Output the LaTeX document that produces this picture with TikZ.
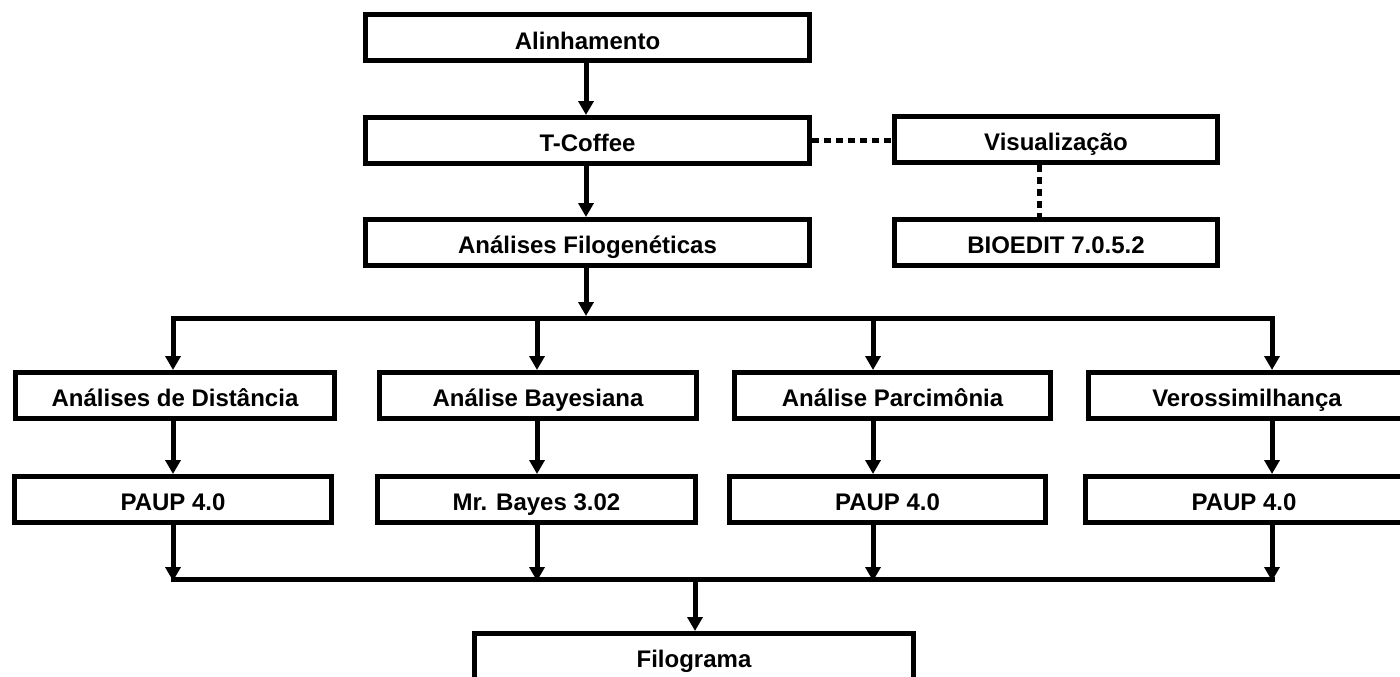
\documentclass[tikz,border=0pt]{standalone}
\usepackage{fontspec}
\setmainfont{Liberation Sans}
\usetikzlibrary{arrows.meta}
\begin{document}
\begin{tikzpicture}[x=1pt,y=-1pt,
  box/.style={draw,line width=5pt,inner sep=0pt,minimum height=46pt,
    text height=24pt,text depth=2pt,
    font=\fontsize{24}{28}\selectfont\bfseries},
  arr/.style={line width=5pt,-{Triangle[width=15pt,length=14pt]}},
  bus/.style={line width=5pt,line cap=rect},
  dotline/.style={line width=5pt,dash pattern=on 7pt off 5pt}]
\useasboundingbox (0,0) rectangle (1400,677);
\fill[white] (0,0) rectangle (1400,677);

% top column
\node[box,minimum width=444pt] (ali) at (587.5,38) {Alinhamento};
\node[box,minimum width=444pt] (tc)  at (587.5,140.5) {T-Coffee};
\node[box,minimum width=444pt] (af)  at (587.5,242.5) {Análises Filogenéticas};
\node[box,minimum width=323pt] (vis) at (1056,139.5) {Visualização};
\node[box,minimum width=323pt] (bio) at (1056,242.5) {BIOEDIT 7.0.5.2};

% row 1
\node[box,minimum width=319pt] (dist) at (175,395.5) {Análises de Distância};
\node[box,minimum width=317pt] (bay)  at (538,395.5) {Análise Bayesiana};
\node[box,minimum width=316pt] (par)  at (892.5,395.5) {Análise Parcimônia};
\node[box,minimum width=317pt] (ver)  at (1247,395.5) {Verossimilhança};

% row 2
\node[box,minimum width=317pt] (p1) at (173,499.5) {PAUP 4.0};
\node[box,minimum width=318pt] (mb) at (536.5,499.5) {Mr. Bayes 3.02};
\node[box,minimum width=316pt] (p3) at (887.5,499.5) {PAUP 4.0};
\node[box,minimum width=317pt] (p4) at (1244,499.5) {PAUP 4.0};

% bottom
\node[box,minimum width=439pt] (fil) at (694,656.5) {Filograma};

% bus coordinates
\coordinate (s1) at (173,318);
\coordinate (s2) at (537,318);
\coordinate (s3) at (873,318);
\coordinate (s4) at (1272,318);
\coordinate (sc) at (586,316);
\coordinate (t1) at (173,579);
\coordinate (t2) at (537,579);
\coordinate (t3) at (873,579);
\coordinate (t4) at (1272,579);
\coordinate (tc2) at (695,579);

% arrows top column
\draw[arr] (ali.south -| 586,0) -- (tc.north -| 586,0);
\draw[arr] (tc.south -| 586,0) -- (af.north -| 586,0);
\draw[arr] (af.south -| sc) -- (sc);

% upper bus
\draw[bus] (s1) -- (s4);
\draw[arr] (s1) -- (s1 |- dist.north);
\draw[arr] (s2) -- (s2 |- bay.north);
\draw[arr] (s3) -- (s3 |- par.north);
\draw[arr] (s4) -- (s4 |- ver.north);

% row1 -> row2
\draw[arr] (s1 |- dist.south) -- (s1 |- p1.north);
\draw[arr] (s2 |- bay.south) -- (s2 |- mb.north);
\draw[arr] (s3 |- par.south) -- (s3 |- p3.north);
\draw[arr] (s4 |- ver.south) -- (s4 |- p4.north);

% row2 -> lower bus
\draw[arr] (t1 |- p1.south) -- ([yshift=-2pt]t1);
\draw[arr] (t2 |- mb.south) -- ([yshift=-2pt]t2);
\draw[arr] (t3 |- p3.south) -- ([yshift=-2pt]t3);
\draw[arr] (t4 |- p4.south) -- ([yshift=-2pt]t4);
\draw[bus] (t1) -- (t4);
\draw[arr] (tc2) -- (tc2 |- fil.north);

% dotted links
\draw[dotline] (tc.east) -- (tc.east -| vis.west);
\draw[dotline] (vis.south -| 1039,0) -- (bio.north -| 1039,0);
\end{tikzpicture}
\end{document}
